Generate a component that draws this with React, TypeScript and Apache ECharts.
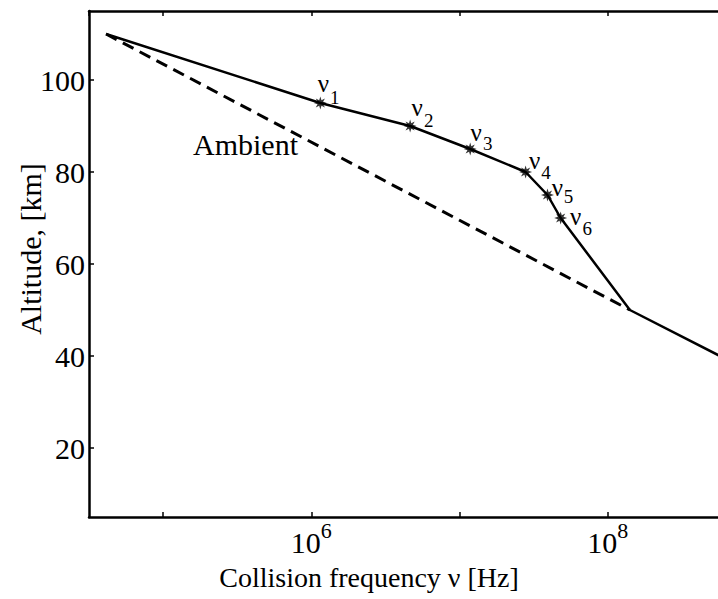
import { useEffect, useRef } from "react";
import * as echarts from "echarts";

// Collision frequency at the marked altitudes (Hz) and the altitudes (km)
const nuFreq = [1.15e6, 4.64e6, 1.18e7, 2.79e7, 3.92e7, 4.81e7];
const nuAlt = [95, 90, 85, 80, 75, 70];
const nuNames = ["1", "2", "3", "4", "5", "6"];

// Disturbed profile (solid line)
const disturbedFreq = [4.12e4, 1.15e6, 4.64e6, 1.18e7, 2.79e7, 3.92e7, 4.81e7, 1.41e8, 1e9];
const disturbedAlt = [110, 95, 90, 85, 80, 75, 70, 50, 36];

// Ambient profile (dashed line)
const ambientFreq = [4.12e4, 1.41e8];
const ambientAlt = [110, 50];

// Labelled decades on the x axis
const xLabelExponents = [6, 8];

const FONT = "'Liberation Serif', 'Times New Roman', serif";

// label nudges (style only), in px relative to each marker:
// [nu dx, nu dy, subscript dx, subscript dy]
const labelNudges = [
  [3, -20, 14.5, -6],
  [7, -19, 18.5, -6],
  [6, -17, 17.5, -6],
  [9, -12, 20.5, 0],
  [10, -8, 21, 1],
  [15, -2, 26.5, 10],
];

function starPath(): string {
  const pts: string[] = [];
  for (let k = 0; k < 16; k++) {
    const a = (k * Math.PI) / 8 - Math.PI / 2;
    const r = k % 2 === 0 ? 6.5 : 3;
    const x = (r * Math.cos(a)).toFixed(3);
    const y = (r * Math.sin(a)).toFixed(3);
    pts.push((k === 0 ? "M" : "L") + x + "," + y);
  }
  return "path://" + pts.join(" ") + " Z";
}

export default function App() {
  const ref = useRef<HTMLDivElement>(null);

  useEffect(() => {
    document.body.style.margin = "0";
    const chart = echarts.init(ref.current!, null, { renderer: "svg" });

    const xLabelFormatter = (v: number) => {
      const e = Math.log10(v);
      const r = Math.round(e);
      if (Math.abs(e - r) < 1e-6 && xLabelExponents.indexOf(r) >= 0) {
        return "{b|10}{e|" + r + "}";
      }
      return "";
    };

    const axisCommon = {
      type: "log" as const,
      logBase: 10,
      min: Math.pow(10, 4.5),
      max: 1e9,
      splitLine: { show: false },
      minorTick: { show: false },
      axisLine: { show: true, lineStyle: { color: "#000", width: 2.5 } },
      axisTick: { show: true, inside: true, length: 5, lineStyle: { color: "#000", width: 1.5 } },
    };

    const option: any = {
      animation: false,
      backgroundColor: "#fff",
      grid: {
        left: 89,
        top: 11,
        width: 667,
        height: 506,
        containLabel: false,
        outerBoundsMode: "none",
      },
      xAxis: [
        {
          ...axisCommon,
          position: "bottom",
          axisLabel: {
            show: true,
            margin: 2,
            showMinLabel: false,
            showMaxLabel: false,
            hideOverlap: false,
            formatter: xLabelFormatter,
            rich: {
              b: { fontFamily: FONT, fontSize: 30, color: "#000", lineHeight: 38, verticalAlign: "bottom" },
              e: { fontFamily: FONT, fontSize: 22, color: "#000", lineHeight: 22, verticalAlign: "top" },
            },
          },
        },
        {
          ...axisCommon,
          position: "top",
          axisLabel: { show: false },
        },
      ],
      yAxis: [
        {
          type: "value",
          min: 5,
          max: 115,
          splitNumber: 5,
          position: "left",
          splitLine: { show: false },
          axisLine: { show: true, lineStyle: { color: "#000", width: 2.5 } },
          axisTick: { show: true, inside: true, length: 5, lineStyle: { color: "#000", width: 1.5 } },
          axisLabel: {
            show: true,
            margin: 4,
            showMinLabel: false,
            showMaxLabel: false,
            fontFamily: FONT,
            fontSize: 30,
            color: "#000",
          },
        },
      ],
      series: [
        {
          type: "line",
          name: "Ambient",
          data: ambientFreq.map((f, i) => [f, ambientAlt[i]]),
          showSymbol: false,
          symbol: "none",
          lineStyle: { color: "#000", width: 3, type: [12, 7] },
          z: 2,
        },
        {
          type: "line",
          name: "Disturbed",
          data: disturbedFreq.map((f, i) => [f, disturbedAlt[i]]),
          showSymbol: false,
          symbol: "none",
          lineStyle: { color: "#000", width: 2.5 },
          z: 3,
        },
        {
          type: "scatter",
          name: "nu",
          symbol: starPath(),
          symbolSize: 13,
          itemStyle: { color: "#000" },
          z: 4,
          data: nuFreq.map((f, i) => [f, nuAlt[i]]),
        },
      ],
    };

    chart.setOption(option);

    const graphics: any[] = [
      {
        type: "text",
        left: 193,
        top: 129,
        style: { text: "Ambient", fontFamily: FONT, fontSize: 30, fill: "#000" },
      },
      {
        type: "text",
        x: 369,
        y: 577,
        style: {
          text: "Collision frequency ν [Hz]",
          fontFamily: FONT,
          fontSize: 28,
          fill: "#000",
          align: "center",
          verticalAlign: "middle",
        },
      },
      {
        type: "text",
        x: 30,
        y: 249,
        rotation: Math.PI / 2,
        style: {
          text: "Altitude, [km]",
          fontFamily: FONT,
          fontSize: 30,
          fill: "#000",
          align: "center",
          verticalAlign: "middle",
        },
      },
    ];

    nuFreq.forEach((f, i) => {
      const p = chart.convertToPixel({ gridIndex: 0 }, [f, nuAlt[i]]) as number[];
      const [ndx, ndy, sdx, sdy] = labelNudges[i];
      graphics.push({
        type: "text",
        x: p[0] + ndx,
        y: p[1] + ndy,
        z: 10,
        style: {
          text: "ν",
          fontFamily: FONT,
          fontSize: 25,
          fill: "#000",
          align: "center",
          verticalAlign: "middle",
        },
      });
      graphics.push({
        type: "text",
        x: p[0] + sdx,
        y: p[1] + sdy,
        z: 10,
        style: {
          text: nuNames[i],
          fontFamily: FONT,
          fontSize: 19,
          fill: "#000",
          align: "center",
          verticalAlign: "middle",
        },
      });
    });

    chart.setOption({ graphic: graphics });
    return () => chart.dispose();
  }, []);

  return <div ref={ref} style={{ width: 718, height: 599 }} />;
}
